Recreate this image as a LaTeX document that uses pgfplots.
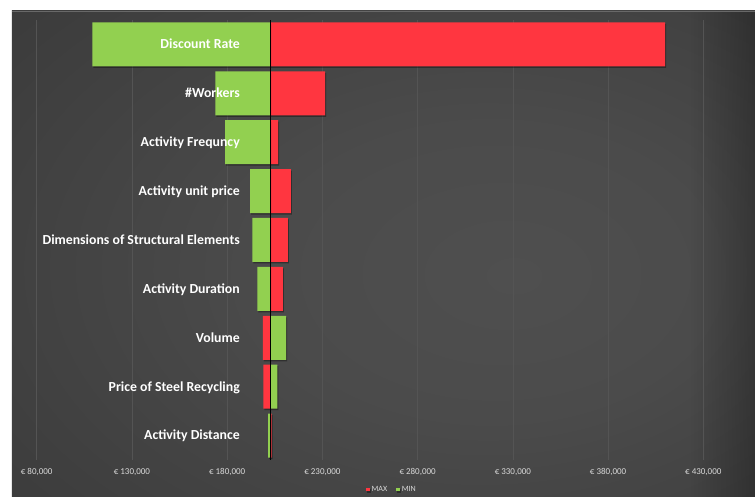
\documentclass[border=0pt]{standalone}
\usepackage{fontspec}
\setmainfont{Carlito}
\usepackage{pgfplots}
\pgfplotsset{compat=1.18}
\usetikzlibrary{fadings}
\definecolor{bgA}{HTML}{4F4F4F}
\definecolor{bgB}{HTML}{4B4B4B}
\definecolor{bgC}{HTML}{3B3B3B}
\definecolor{bgD}{HTML}{2B2B2B}
\definecolor{barred}{HTML}{FF3640}
\definecolor{bargreen}{HTML}{92D050}
\definecolor{ticktext}{HTML}{D9D9D9}
\definecolor{gridc}{HTML}{545454}
\definecolor{topline}{HTML}{686868}
\pgfdeclareradialshading{bgshade}{\pgfpoint{9bp}{-2.3bp}}{color(0bp)=(bgA); color(15bp)=(bgB); color(40bp)=(bgC); color(60bp)=(bgD); color(80bp)=(bgD)}
\pgfplotsset{
  layers/mylayers/.define layer set={axis background,axis grid,axis ticks,axis lines,pre main,main,axis tick labels,axis descriptions,axis foreground}{/pgfplots/layers/standard},
}
\begin{document}
\begin{tikzpicture}
\begin{axis}[
  set layers=mylayers,
  at={(36.7pt,37pt)}, anchor=south west,
  scale only axis, width=718.3pt, height=440pt,
  x filter/.expression={x-202500},
  xmin=-122500, xmax=254640,
  ymin=-0.5, ymax=8.5,
  scaled x ticks=false,
  axis line style={draw=none},
  major tick style={draw=none},
  xtick={-122500,-72500,-22500,27500,77500,127500,177500,227500},
  xticklabels={{€ 80,000},{€ 130,000},{€ 180,000},{€ 230,000},{€ 280,000},{€ 330,000},{€ 380,000},{€ 430,000}},
  xticklabel style={font=\fontsize{9}{10}\selectfont, text=ticktext, anchor=base, yshift=-14.5pt},
  ytick={0,1,2,3,4,5,6,7,8},
  yticklabels={Activity Distance,Price of Steel Recycling\hspace{3pt},Volume,Activity Duration,Dimensions of Structural Elements\hspace{3pt},Activity unit price,Activity Frequncy,\#Workers,Discount Rate\hspace{3pt}},
  yticklabel style={font=\bfseries\fontsize{13.8}{15}\selectfont, text=white, anchor=base east, inner sep=0pt, xshift=203.3pt, yshift=-4.4pt},
  xmajorgrids, ymajorgrids=false,
  major grid style={draw=gridc, line width=0.6pt},
  legend style={at={(0.4946,-0.0666)}, anchor=center, draw=none, fill=none, legend columns=2,
    font=\fontsize{8}{9}\selectfont, text=ticktext, inner sep=0pt,
    /tikz/every even column/.append style={column sep=7pt}},
]
\begin{pgfonlayer}{axis background}
\fill[white] (rel axis cs:-0.05109,-0.0841) rectangle (rel axis cs:1,1.04545);
\shade[shading=bgshade] (rel axis cs:-0.03439,-0.0841) rectangle (rel axis cs:1,1.0205);
\fill[black, path fading=west, fill opacity=0.25] (rel axis cs:0.9095,-0.0841) rectangle (rel axis cs:1,1.0205);
\draw[topline, line width=1pt] (rel axis cs:-0.03439,1.0195) -- (rel axis cs:1,1.0195);
\end{pgfonlayer}
\addplot[xbar, bar width=44pt, bar shift=0pt, fill=barred, draw=none,
  preaction={fill=black, fill opacity=0.35, transform canvas={shift={(1pt,-1.5pt)}}},
  legend image code/.code={\fill[barred] (0pt,-1.75pt) rectangle (3.5pt,1.75pt);}]
  coordinates {(410000,8) (231400,7) (206800,6) (213400,5) (211900,4) (209300,3) (198800,2) (199000,1) (203400,0)};
\addlegendentry{MAX}
\addplot[xbar, bar width=44pt, bar shift=0pt, fill=bargreen, draw=none,
  preaction={fill=black, fill opacity=0.35, transform canvas={shift={(1pt,-1.5pt)}}},
  legend image code/.code={\fill[bargreen] (0pt,-1.75pt) rectangle (3.5pt,1.75pt);}]
  coordinates {(109200,8) (173800,7) (178900,6) (192000,5) (193200,4) (195800,3) (210900,2) (206300,1) (201500,0)};
\addlegendentry{MIN}
\addplot[black, line width=0.8pt, forget plot] coordinates {(202500,-0.5) (202500,8.5)};
\end{axis}
\path (0,0) rectangle (755pt,497pt);
\end{tikzpicture}
\end{document}
